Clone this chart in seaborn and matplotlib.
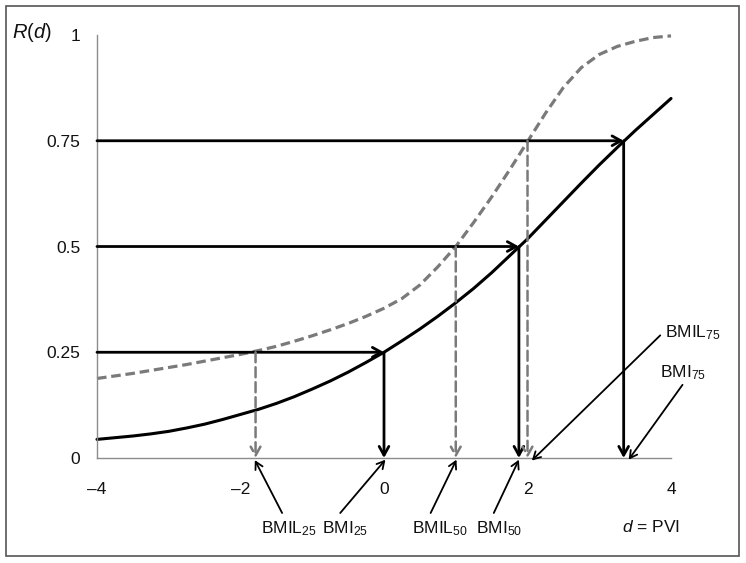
import numpy as np
import pandas as pd
import seaborn as sns
import matplotlib.pyplot as plt
from matplotlib.patches import Rectangle

sns.set_style('white')
plt.rcParams['font.family'] = ['Liberation Sans', 'DejaVu Sans']
plt.rcParams['mathtext.fontset'] = 'custom'
plt.rcParams['mathtext.rm'] = 'Liberation Sans'
plt.rcParams['mathtext.it'] = 'Liberation Sans:italic'

# curves (every 0.25 on d)
d_vals = [-4, -3.75, -3.5, -3.25, -3, -2.75, -2.5, -2.25, -2, -1.75, -1.5, -1.25,
          -1, -0.75, -0.5, -0.25, 0, 0.25, 0.5, 0.75, 1, 1.25, 1.5, 1.75, 2,
          2.25, 2.5, 2.75, 3, 3.25, 3.5, 3.75, 4]
r_solid = [0.044, 0.048, 0.052, 0.057, 0.063, 0.071, 0.080, 0.091, 0.103, 0.115,
           0.129, 0.145, 0.163, 0.182, 0.203, 0.226, 0.25, 0.277, 0.305, 0.335,
           0.367, 0.401, 0.438, 0.478, 0.518, 0.562, 0.606, 0.650, 0.693, 0.734,
           0.774, 0.812, 0.85]
r_dash = [0.188, 0.194, 0.200, 0.207, 0.214, 0.221, 0.229, 0.237, 0.245, 0.254,
          0.264, 0.276, 0.289, 0.303, 0.318, 0.335, 0.354, 0.377, 0.409, 0.452,
          0.5, 0.557, 0.617, 0.681, 0.748, 0.815, 0.876, 0.923, 0.954, 0.973,
          0.985, 0.994, 0.998]

# crossing levels and where they hit each curve
levels = [0.25, 0.5, 0.75]
bmi_x = [0, 1.88, 3.34]
bmil_x = [-1.79, 1.0, 2.0]

xticks = [-4, -2, 0, 2, 4]
xtick_labels = ['\u20134', '\u20132', '0', '2', '4']
yticks = [0, 0.25, 0.5, 0.75, 1]
ytick_labels = ['0', '0.25', '0.5', '0.75', '1']

# labels: text, text position, arrow tail, arrow tip
labels = ['BMIL$_{25}$', 'BMI$_{25}$', 'BMIL$_{50}$', 'BMI$_{50}$', 'BMIL$_{75}$', 'BMI$_{75}$']
label_pos = [(-1.72, -0.177), (-0.86, -0.177), (0.39, -0.177), (1.28, -0.177),
             (3.92, 0.286), (3.85, 0.191)]
arrow_tail = [(-1.42, -0.13), (-0.61, -0.13), (0.65, -0.13), (1.53, -0.13),
              (3.85, 0.29), (4.16, 0.173)]
arrow_tip = [(-1.80, -0.005), (0.02, -0.004), (1.01, -0.004), (1.88, -0.004),
             (2.06, -0.006), (3.41, -0.004)]

grey = '#7a7a7a'
df = pd.DataFrame({'d': d_vals, 'solid': r_solid, 'dash': r_dash})

fig = plt.figure(figsize=(7.46, 5.63), dpi=100)
ax = fig.add_axes([0.130, 0.1865, 0.7695, 0.7513])

sns.lineplot(data=df, x='d', y='dash', ax=ax, color=grey, lw=2.3, estimator=None,
             linestyle=(0, (3, 1.5)), clip_on=False)
sns.lineplot(data=df, x='d', y='solid', ax=ax, color='black', lw=2.2, estimator=None,
             clip_on=False)

head = '->,head_length=0.45,head_width=0.25'
for lev, xb, xl in zip(levels, bmi_x, bmil_x):
    # horizontal arrow to solid curve
    ax.annotate('', xy=(xb, lev), xytext=(-4, lev),
                arrowprops=dict(arrowstyle=head, lw=2, color='black',
                                shrinkA=0, shrinkB=0, mutation_scale=14))
    # vertical down from solid curve
    ax.annotate('', xy=(xb, 0), xytext=(xb, lev),
                arrowprops=dict(arrowstyle=head, lw=2, color='black',
                                shrinkA=0, shrinkB=0, mutation_scale=14))
    # dashed down from dashed curve
    ax.annotate('', xy=(xl, 0), xytext=(xl, lev),
                arrowprops=dict(arrowstyle=head, lw=1.8, color=grey,
                                linestyle=(0, (4, 2)),
                                shrinkA=0, shrinkB=0, mutation_scale=14))

for txt, pos, tail, tip in zip(labels, label_pos, arrow_tail, arrow_tip):
    ax.text(pos[0], pos[1], txt, fontsize=12.5, ha='left', va='baseline',
            color='#111111', clip_on=False)
    ax.annotate('', xy=tip, xytext=tail, annotation_clip=False,
                arrowprops=dict(arrowstyle='->,head_length=0.4,head_width=0.22',
                                lw=1.3, color='black', shrinkA=0, shrinkB=0,
                                mutation_scale=13))

ax.text(3.32, -0.175, '$\\it{d}$ = PVI', fontsize=12.5, ha='left', va='baseline',
        color='#111111')
ax.text(-4.91, 1.005, '$\\it{R}$($\\it{d}$)', fontsize=14.5, ha='center',
        va='center', color='#111111')

ax.set_xlim(-4, 4)
ax.set_ylim(0, 1)
ax.set_xticks(xticks)
ax.set_xticklabels(xtick_labels)
ax.set_yticks(yticks)
ax.set_yticklabels(ytick_labels)
ax.set_xlabel('')
ax.set_ylabel('')
sns.despine(ax=ax)
for side in ['left', 'bottom']:
    ax.spines[side].set_color('#8c8c8c')
    ax.spines[side].set_linewidth(1)
ax.tick_params(direction='out', length=5, width=1, color='#8c8c8c',
               labelsize=12.5, labelcolor='#111111')
ax.tick_params(axis='y', pad=7)
ax.tick_params(axis='x', pad=12)

fig.patches.append(Rectangle((0.008, 0.0124), 0.9826, 0.977, transform=fig.transFigure,
                             fill=False, edgecolor='#555555', lw=1.2))

fig.savefig('out.png', dpi=100)
